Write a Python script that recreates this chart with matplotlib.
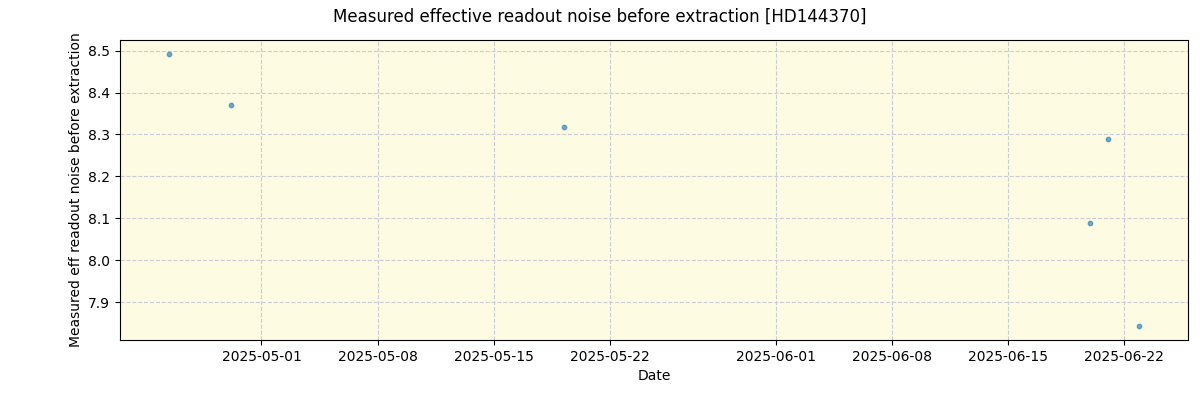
import pandas as pd
import matplotlib
matplotlib.use("Agg")
import matplotlib.pyplot as plt
import matplotlib.dates as mdates

# -------------------------- Data --------------------------
dates = pd.to_datetime([
    "2025-04-25 09:30",
    "2025-04-29 04:30",
    "2025-05-19 05:30",
    "2025-06-19 23:30",
    "2025-06-21 00:30",
    "2025-06-22 22:30",
])
noise = [8.493, 8.370, 8.318, 8.088, 8.289, 7.842]

# -------------------------- Plot --------------------------
fig, ax = plt.subplots(figsize=(12, 4), dpi=100)
ax.set_facecolor("#fdfbe2")

ax.scatter(dates, noise, s=10, color="tab:blue", alpha=0.6, zorder=3)

ax.grid(True, linestyle="--", color="#ccccd6", linewidth=0.8)
ax.set_axisbelow(True)

ax.xaxis.set_major_locator(mdates.DayLocator(bymonthday=[1, 8, 15, 22]))
ax.xaxis.set_major_formatter(mdates.DateFormatter("%Y-%m-%d"))

ax.set_xlabel("Date")
ax.set_ylabel("Measured eff readout noise before extraction")
fig.suptitle("Measured effective readout noise before extraction [HD144370]")

fig.subplots_adjust(left=0.1, right=0.99, top=0.9, bottom=0.15)
fig.savefig("out.png", dpi=100)
